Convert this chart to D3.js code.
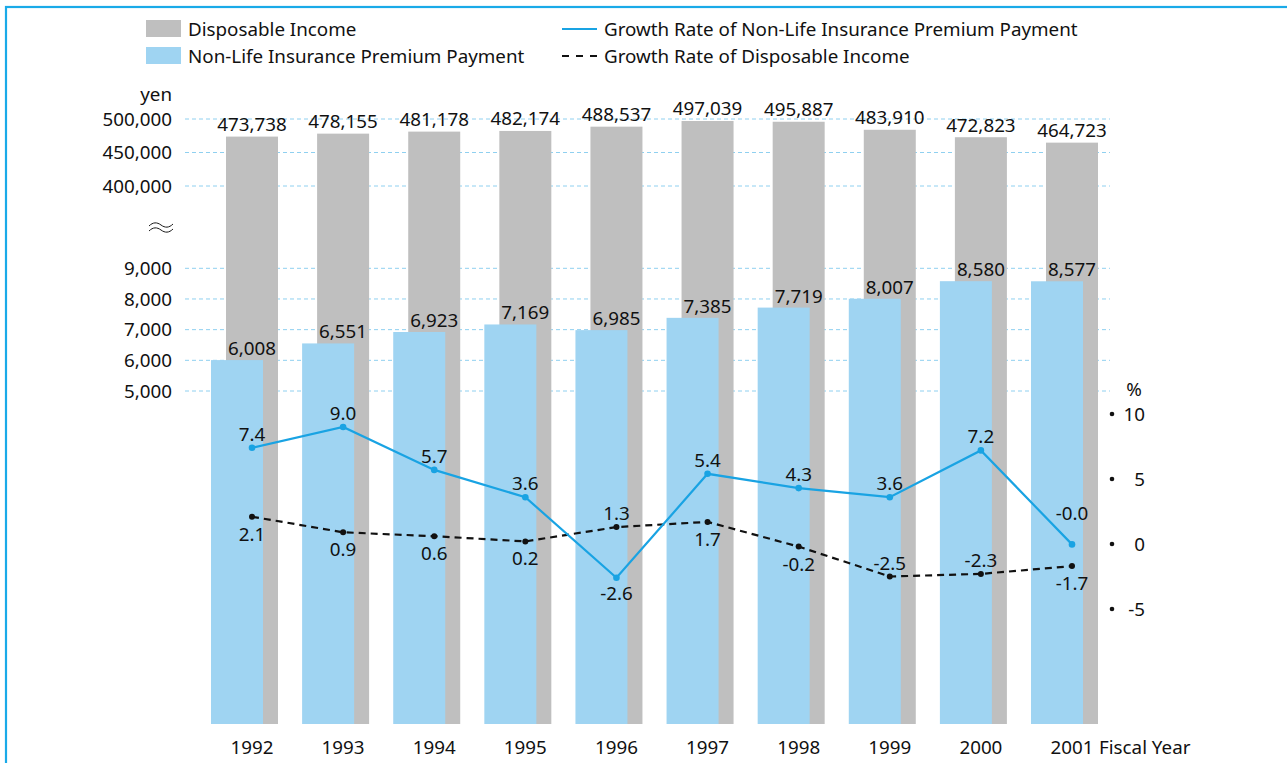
<!DOCTYPE html>
<html><head><meta charset="utf-8">
<script src="https://cdn.jsdelivr.net/npm/d3@7"></script>
<style>
html,body{margin:0;padding:0;background:#fff;}
svg text{font-family:"Noto Sans",sans-serif;fill:#111;}
</style></head>
<body><svg id="c" width="1287" height="763"></svg>
<script>
const years = ["1992","1993","1994","1995","1996","1997","1998","1999","2000","2001"];
const disposableIncome = [473738,478155,481178,482174,488537,497039,495887,483910,472823,464723];
const premiumPayment = [6008,6551,6923,7169,6985,7385,7719,8007,8580,8577];
const premiumGrowth = [7.4,9.0,5.7,3.6,-2.6,5.4,4.3,3.6,7.2,-0.03];
const incomeGrowth = [2.1,0.9,0.6,0.2,1.3,1.7,-0.2,-2.5,-2.3,-1.7];
const premiumLabelPos = ["a","a","a","a","b","a","a","a","a","a2"];
const incomeLabelPos = ["b","b","b","b","a","b","b","a","a","b"];
const upperTicks = [400000,450000,500000];
const lowerTicks = [5000,6000,7000,8000,9000];
const rateTicks = [10,5,0,-5];

const svg = d3.select("#c");
const GRAY="#bfbfbf", LBLUE="#9fd4f2", LINEBLUE="#19a3e3", GRID="#8fd0f0", FRAME="#1aaae8";
const FS = 18.8;

svg.append("rect").attr("x",6).attr("y",7).attr("width",1400).attr("height",900)
  .attr("fill","none").attr("stroke",FRAME).attr("stroke-width",2.2);

const xC = d3.scalePoint().domain(years).range([252,1072]);
const yUp = d3.scaleLinear().domain([400000,500000]).range([186,119]);
const yLo = d3.scaleLinear().domain([5000,9000]).range([391,268.3]);
const yR = d3.scaleLinear().domain([-5,10]).range([609,414]);
const baseY = 724;
const fmt = d3.format(",");

const gridG = svg.append("g");
upperTicks.forEach(t=>gridG.append("line").attr("x1",185).attr("x2",1110).attr("y1",yUp(t)).attr("y2",yUp(t)));
lowerTicks.forEach(t=>gridG.append("line").attr("x1",185).attr("x2",1110).attr("y1",yLo(t)).attr("y2",yLo(t)));
gridG.selectAll("line").attr("stroke",GRID).attr("stroke-width",1).attr("stroke-dasharray","4,3");

const axL = svg.append("g").attr("font-size",FS).attr("text-anchor","end");
upperTicks.forEach(t=>axL.append("text").attr("x",172).attr("y",yUp(t)).attr("dy","0.35em").text(fmt(t)));
lowerTicks.forEach(t=>axL.append("text").attr("x",172).attr("y",yLo(t)).attr("dy","0.35em").text(fmt(t)));
axL.append("text").attr("x",172).attr("y",101).text("yen");

const br = svg.append("g").attr("fill","none").attr("stroke","#1a1a1a").attr("stroke-width",1);
[0,5].forEach(o=>{
  br.append("path").attr("d",`M149,${226+o} C153,${222+o} 157,${222+o} 161,${225+o} S169,${228+o} 173,${224+o}`);
});

svg.append("g").selectAll("rect").data(years).join("rect")
  .attr("x",d=>xC(d)-26).attr("width",52)
  .attr("y",(d,i)=>yUp(disposableIncome[i])).attr("height",(d,i)=>baseY-yUp(disposableIncome[i]))
  .attr("fill",GRAY);
svg.append("g").selectAll("rect").data(years).join("rect")
  .attr("x",d=>xC(d)-41).attr("width",52)
  .attr("y",(d,i)=>yLo(premiumPayment[i])).attr("height",(d,i)=>baseY-yLo(premiumPayment[i]))
  .attr("fill",LBLUE);

const vl = svg.append("g").attr("font-size",FS).attr("text-anchor","middle");
years.forEach((y,i)=>{
  vl.append("text").attr("x",xC(y)).attr("y",yUp(disposableIncome[i])-5.5).text(fmt(disposableIncome[i]));
  vl.append("text").attr("x",xC(y)).attr("y",yLo(premiumPayment[i])-5).text(fmt(premiumPayment[i]));
});

const line = d3.line().x((d,i)=>xC(years[i])).y(d=>yR(d));
svg.append("path").attr("d",line(incomeGrowth)).attr("fill","none").attr("stroke","#111")
  .attr("stroke-width",2.2).attr("stroke-dasharray","7,5");
svg.append("g").selectAll("circle").data(incomeGrowth).join("circle")
  .attr("cx",(d,i)=>xC(years[i])).attr("cy",d=>yR(d)).attr("r",3).attr("fill","#111");
svg.append("path").attr("d",line(premiumGrowth)).attr("fill","none").attr("stroke",LINEBLUE).attr("stroke-width",2.2);
svg.append("g").selectAll("circle").data(premiumGrowth).join("circle")
  .attr("cx",(d,i)=>xC(years[i])).attr("cy",d=>yR(d)).attr("r",3.3).attr("fill",LINEBLUE);

const off = {a:-7, a2:-24, b:22};
const ll = svg.append("g").attr("font-size",FS).attr("text-anchor","middle");
premiumGrowth.forEach((v,i)=>{
  ll.append("text").attr("x",xC(years[i])).attr("y",yR(v)+off[premiumLabelPos[i]]).text(v.toFixed(1));
});
incomeGrowth.forEach((v,i)=>{
  ll.append("text").attr("x",xC(years[i])).attr("y",yR(v)+(incomeLabelPos[i]==="a"?-7:24)).text(v.toFixed(1));
});

const axR = svg.append("g").attr("font-size",FS);
rateTicks.forEach(t=>{
  axR.append("circle").attr("cx",1112).attr("cy",yR(t)).attr("r",2.3).attr("fill","#111");
  axR.append("text").attr("x",1145).attr("y",yR(t)).attr("dy","0.35em").attr("text-anchor","end").text(t);
});
axR.append("text").attr("x",1134).attr("y",389).attr("dy","0.35em").attr("text-anchor","middle").text("%");

const xl = svg.append("g").attr("font-size",FS).attr("text-anchor","middle");
years.forEach(y=>xl.append("text").attr("x",xC(y)).attr("y",747).attr("dy","0.35em").text(y));
svg.append("text").attr("x",1099).attr("y",747).attr("dy","0.35em").attr("font-size",FS).text("Fiscal Year");

const lg = svg.append("g").attr("font-size",FS);
lg.append("rect").attr("x",146).attr("y",20).attr("width",35).attr("height",17).attr("fill",GRAY);
lg.append("text").attr("x",188).attr("y",29).attr("dy","0.35em").text("Disposable Income");
lg.append("rect").attr("x",146).attr("y",47).attr("width",35).attr("height",17).attr("fill",LBLUE);
lg.append("text").attr("x",188).attr("y",56).attr("dy","0.35em").text("Non-Life Insurance Premium Payment");
lg.append("line").attr("x1",562).attr("x2",597).attr("y1",29).attr("y2",29).attr("stroke",LINEBLUE).attr("stroke-width",2.2);
lg.append("text").attr("x",604).attr("y",29).attr("dy","0.35em").text("Growth Rate of Non-Life Insurance Premium Payment");
lg.append("line").attr("x1",562).attr("x2",597).attr("y1",56).attr("y2",56).attr("stroke","#111").attr("stroke-width",2.2).attr("stroke-dasharray","7,7");
lg.append("text").attr("x",604).attr("y",56).attr("dy","0.35em").text("Growth Rate of Disposable Income");
</script></body></html>
